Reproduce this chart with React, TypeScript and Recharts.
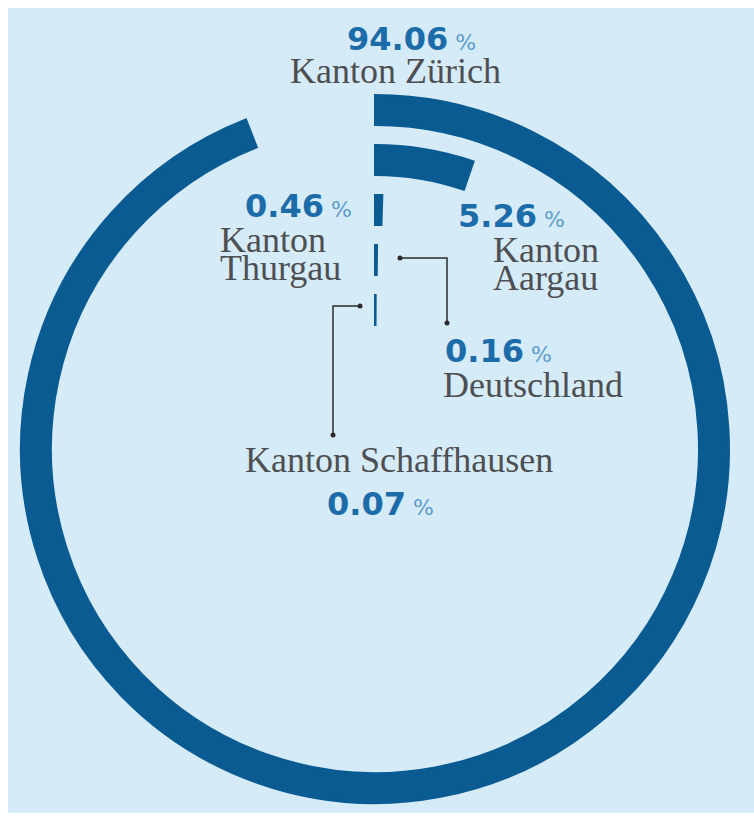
import { PolarAngleAxis, PolarRadiusAxis, RadialBar, RadialBarChart } from "recharts";

// innermost ring first
const regions = ["Kanton Schaffhausen", "Deutschland", "Kanton Thurgau", "Kanton Aargau", "Kanton Zürich"];
const shares = [0.07, 0.16, 0.46, 5.26, 94.06];
const shareLabels = ["0.07", "0.16", "0.46", "5.26", "94.06"];

const W = 746;
const H = 805;
const CX = 367;
const CY = 441;
const RING = "#0b5b93";
const BG = "#d6ebf8";
const NUM = "#1b6ca8";
const PCT = "#5d9ccb";
const TXT = "#4d4f52";

const data = regions.map((name, i) => ({ name, value: shares[i] }));

function Pct({ x, y, v }: { x: number; y: number; v: string }) {
  return (
    <text x={x} y={y} fontFamily="DejaVu Sans" fontWeight="bold" fontSize={32} fill={NUM}>
      {v}
      <tspan dx={7} fontWeight="normal" fontSize={22} fill={PCT}>
        %
      </tspan>
    </text>
  );
}

function Lbl({ x, y, t }: { x: number; y: number; t: string }) {
  return (
    <text x={x} y={y} fontFamily="Liberation Serif" fontSize={36} fill={TXT}>
      {t}
    </text>
  );
}

function Dot({ x, y }: { x: number; y: number }) {
  return <circle cx={x} cy={y} r={2.5} fill="#2b2b2b" />;
}

export default function App() {
  return (
    <>
      <style>{`body{margin:0}`}</style>
      <div style={{ margin: "8px 0 0 8px", width: W, height: H, background: BG }}>
        <RadialBarChart
          width={W}
          height={H}
          cx={CX}
          cy={CY}
          innerRadius={114}
          outerRadius={364}
          startAngle={90}
          endAngle={-270}
          barCategoryGap="20%"
          data={data}
          margin={{ top: 0, right: 0, bottom: 0, left: 0 }}
        >
          <PolarAngleAxis type="number" domain={[0, 100]} tick={false} axisLine={false} />
          <PolarRadiusAxis type="category" dataKey="name" tick={false} axisLine={false} />
          <RadialBar dataKey="value" fill={RING} stroke={RING} strokeWidth={2} isAnimationActive={false} />

          {/* labels */}
          <Pct x={339} y={42} v={shareLabels[4]} />
          <Lbl x={282} y={75} t="Kanton Zürich" />

          <Pct x={450} y={219} v={shareLabels[3]} />
          <Lbl x={485} y={254} t="Kanton" />
          <Lbl x={485} y={282} t="Aargau" />

          <Pct x={237} y={209} v={shareLabels[2]} />
          <Lbl x={212} y={244} t="Kanton" />
          <Lbl x={212} y={272} t="Thurgau" />

          <Pct x={437} y={354} v={shareLabels[1]} />
          <Lbl x={435} y={389} t="Deutschland" />

          <Lbl x={237} y={464} t="Kanton Schaffhausen" />
          <Pct x={319} y={507} v={shareLabels[0]} />

          {/* leader lines */}
          <polyline points="392,250 439,250 439,315" fill="none" stroke="#2b2b2b" strokeWidth={1.5} />
          <Dot x={392} y={250} />
          <Dot x={439} y={315} />
          <polyline points="352,298 325,298 325,427" fill="none" stroke="#2b2b2b" strokeWidth={1.5} />
          <Dot x={352} y={298} />
          <Dot x={325} y={427} />
        </RadialBarChart>
      </div>
    </>
  );
}
